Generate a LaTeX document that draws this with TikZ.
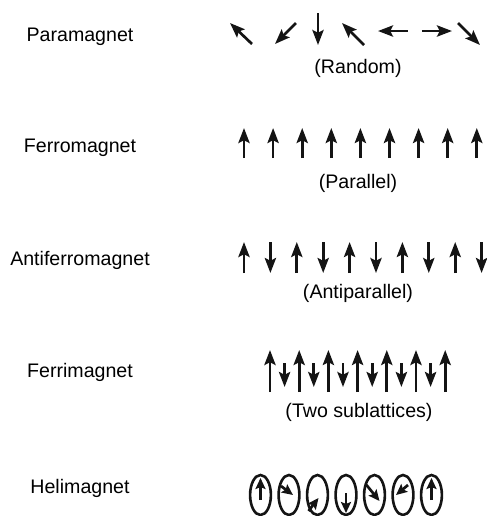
\documentclass[tikz,border=0pt]{standalone}
\usepackage{fontspec}
\setmainfont{Liberation Sans}
\usetikzlibrary{arrows.meta}
\definecolor{spinBlack}{RGB}{20, 20, 20}

\tikzset{
  spin/.style={-{Stealth[length=7.5pt,width=5.6pt,inset=1.4pt]}, line width=1.35pt, spinBlack},
  smallspin/.style={-{Stealth[length=5.5pt,width=5pt,inset=1pt]}, line width=1.35pt, spinBlack},
  kind/.style={anchor=base, font=\fontsize{9.8}{12}\selectfont},
  order/.style={anchor=base, font=\fontsize{9.8}{12}\selectfont}
}

\begin{document}
\begin{tikzpicture}[x=0.5pt, y=-0.5pt]
        \useasboundingbox (0,0) rectangle (487,516);
        % names of the magnets
        \node[kind] (para) at (80,41.5) {Paramagnet};
        \node[kind] (ferro) at (80,152) {Ferromagnet};
        \node[kind] (antiferro) at (80,265) {Antiferromagnet};
        \node[kind] (ferri) at (80,377) {Ferrimagnet};
        \node[kind] (heli) at (80,493) {Helimagnet};
        % paramagnet
        \foreach \a/\b/\c/\d in {252/44/230/23, 296/23/275/44, 318/13/318/45, 364/45/342/23,
                                 408/31/378/31, 422/31/452/31, 458/23/480/45}
          \draw[spin] (\a,\b) -- (\c,\d);
        \node[order] (random) at (358,73) {(Random)};
        % ferromagnet
        \foreach \i in {0,...,8}
          \draw[spin] (244+29.1*\i,158) -- (244+29.1*\i,128);
        \node[order] (parallel) at (358,188) {(Parallel)};
        % antiferromagnet
        \foreach \i in {0,2,...,8} {
          \draw[spin] (244+26.4*\i,273) -- (244+26.4*\i,242);
          \draw[spin] (270.4+26.4*\i,242) -- (270.4+26.4*\i,273);
        }
        \node[order] (antiparallel) at (358,298) {(Antiparallel)};
        % ferrimagnet
        \foreach \i in {0,...,6}
          \draw[spin] (270+29.2*\i,392) -- (270+29.2*\i,350);
        \foreach \i in {0,...,5}
          \draw[spin] (284.6+29.2*\i,363) -- (284.6+29.2*\i,387);
        \node[order] (sublattices) at (359,417) {(Two sublattices)};
        % helimagnet
        \foreach \a/\b/\c/\d [count=\i from 0] in {0/5/0/-17, -8/-9/4/0, -9/16/1/3, 0/-2/0/18,
                                                  -8/-10/5/6, 5/-10/-7/0, 0/5/0/-17} {
          \draw[line width=1.3pt, spinBlack] (260.5+28.5*\i,495) ellipse [x radius=5.2pt, y radius=10pt];
          \draw[smallspin] (260.5+28.5*\i+\a,495+\b) -- (260.5+28.5*\i+\c,495+\d);
        }
      \end{tikzpicture}
\end{document}
